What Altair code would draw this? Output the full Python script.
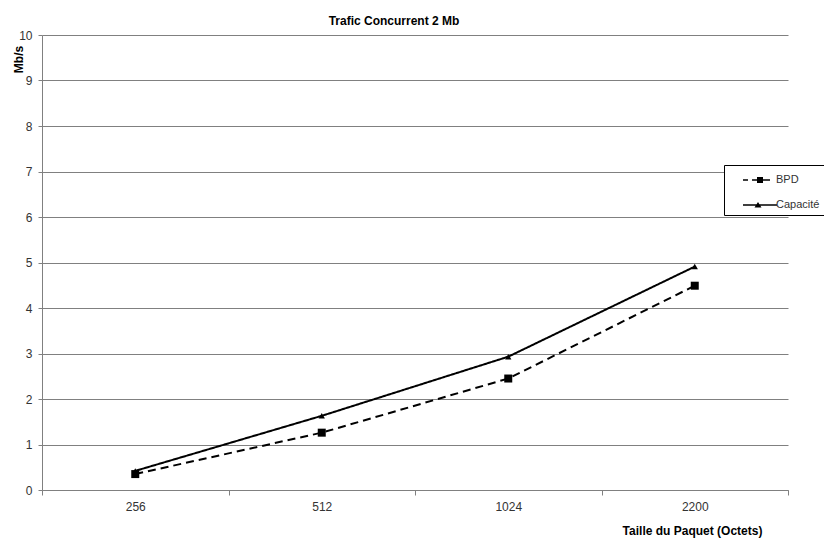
import altair as alt
import pandas as pd

# ---- data ----
categories = ["256", "512", "1024", "2200"]
bpd = [0.35, 1.26, 2.45, 4.49]
capacite = [0.42, 1.63, 2.93, 4.91]
series_names = ["BPD", "Capacité"]
y_ticks = list(range(0, 11))

rows = []
for c, v in zip(categories, bpd):
    rows.append({"taille": c, "debit": v, "serie": "BPD"})
for c, v in zip(categories, capacite):
    rows.append({"taille": c, "debit": v, "serie": "Capacité"})
df = pd.DataFrame(rows)

FONT = "Liberation Sans"
GRID = "#808080"
LAB = "#333333"

x_enc = alt.X(
    "taille:N",
    sort=categories,
    scale=alt.Scale(paddingInner=0, paddingOuter=0),
    axis=alt.Axis(
        title="Taille du Paquet (Octets)",
        labelAngle=0,
        tickBand="extent",
        grid=False,
        tickSize=5,
        labelPadding=6,
        domainColor=GRID,
        tickColor=GRID,
        titleX=650,
        titleY=40,
        titleAlign="center",
        titleBaseline="middle",
    ),
)
y_enc = alt.Y(
    "debit:Q",
    scale=alt.Scale(domain=[0, 10], nice=False),
    axis=alt.Axis(
        title="Mb/s",
        values=y_ticks,
        grid=True,
        gridColor=GRID,
        tickSize=4,
        labelPadding=6,
        domainColor=GRID,
        tickColor=GRID,
        titleX=-24,
        titleY=24,
        titleAngle=270,
        titleAlign="center",
        titleBaseline="middle",
    ),
)

lines = alt.Chart(df).mark_line(color="black", strokeWidth=2).encode(
    x=x_enc,
    y=y_enc,
    strokeDash=alt.StrokeDash(
        "serie:N",
        scale=alt.Scale(domain=series_names, range=[[8, 5], [1, 0]]),
        legend=None,
    ),
)

points = alt.Chart(df).mark_point(filled=True, color="black", opacity=1).encode(
    x=x_enc,
    y=y_enc,
    shape=alt.Shape(
        "serie:N",
        scale=alt.Scale(domain=series_names, range=["square", "triangle-up"]),
        legend=None,
    ),
    size=alt.Size(
        "serie:N",
        scale=alt.Scale(domain=series_names, range=[64, 40]),
        legend=None,
    ),
)

# legend glyphs (line segments drawn as thin filled bars + marker)
path_bpd = ("M0.4,-0.08H0.9V0.08H0.4Z"
            "M1.3,-0.08H1.85V0.08H1.3Z"
            "M2.4,-0.08H3.1V0.08H2.4Z"
            "M1.8,-0.3H2.4V0.3H1.8Z")
path_cap = ("M0.4,-0.08H3.8V0.08H0.4Z"
            "M1.55,0.25L1.9,-0.3L2.25,0.25Z")

legend_layer = (
    alt.Chart(df)
    .transform_filter("false")
    .mark_point(filled=True, color="black")
    .encode(
        x=x_enc,
        y=y_enc,
        shape=alt.Shape(
            "serie:N",
            scale=alt.Scale(domain=series_names, range=[path_bpd, path_cap]),
            legend=alt.Legend(
                title=None,
                orient="none",
                legendX=682,
                legendY=130,
                padding=5,
                rowPadding=10,
                fillColor="white",
                strokeColor="#000000",
                symbolSize=400,
                symbolFillColor="black",
                symbolStrokeColor="black",
                symbolStrokeWidth=0,
                symbolOpacity=1,
                labelFont=FONT,
                labelFontSize=11,
                labelColor=LAB,
                labelOffset=27,
                labelLimit=300,
            ),
        ),
    )
)

chart = (
    alt.layer(lines, points, legend_layer)
    .resolve_scale(shape="independent")
    .properties(
        width=746,
        height=455,
        autosize=alt.AutoSizeParams(type="none"),
        padding={"left": 34, "top": 27, "right": 36, "bottom": 50},
        title=alt.TitleParams(
            "Trafic Concurrent 2 Mb",
            font=FONT,
            fontSize=12,
            fontWeight="bold",
            color="black",
            anchor="middle",
            frame="group",
            dx=-21,
            offset=1,
        ),
    )
    .configure_view(stroke=None)
    .configure_axis(
        labelFont=FONT,
        labelFontSize=12,
        labelColor=LAB,
        titleFont=FONT,
        titleFontSize=12,
        titleFontWeight="bold",
        titleColor="black",
    )
    .configure_legend(strokeWidth=1)
)

chart.save("out.html", embed_options={"renderer": "svg", "actions": False})
